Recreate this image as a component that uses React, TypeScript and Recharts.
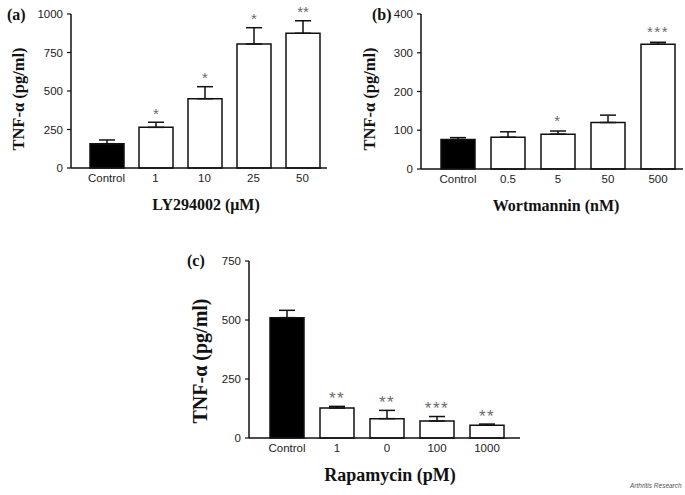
import React from "react";
import { BarChart, Bar, XAxis, YAxis, ErrorBar, LabelList, Cell, Label } from "recharts";

// panel (a) LY294002
const lyDoses = ["Control", "1", "10", "25", "50"];
const lyMean = [158, 264, 450, 805, 875];
const lySem = [24, 33, 78, 106, 81];
const lyStars = ["", "*", "*", "*", "**"];

// panel (b) Wortmannin
const wortDoses = ["Control", "0.5", "5", "50", "500"];
const wortMean = [76, 82, 90, 120, 322];
const wortSem = [5, 14, 8, 19, 5];
const wortStars = ["", "", "*", "", "***"];

// panel (c) Rapamycin
const rapaDoses = ["Control", "1", "0", "100", "1000"];
const rapaMean = [510, 127, 82, 72, 54];
const rapaSem = [31, 7, 35, 19, 5];
const rapaStars = ["", "**", "**", "***", "**"];

const lyTicks = [0, 250, 500, 750, 1000];
const wortTicks = [0, 100, 200, 300, 400];
const rapaTicks = [0, 250, 500, 750];

const SANS = "'Liberation Sans', Arial, sans-serif";
const SERIF = "'Liberation Serif', 'Times New Roman', serif";

function rows(doses: string[], mean: number[], sem: number[], stars: string[]) {
  return doses.map((d, i) => ({ dose: d, mean: mean[i], err: [0, sem[i]], star: stars[i] }));
}

type PanelProps = {
  data: { dose: string; mean: number; err: number[]; star: string }[];
  ticks: number[];
  width: number;
  height: number;
  margin: { top: number; right: number; bottom: number; left: number };
  yWidth: number;
  xHeight: number;
  padLeft: number;
  padRight: number;
  xTitle: string;
  xTitleX: number;
  xTitleY: number;
  xTitleSize: number;
  yTitleX: number;
  yTitleY: number;
  yTitleSize: number;
  letter: string;
  letterX: number;
  letterY: number;
  starSize: number;
  starSpacing: number;
  starGap: number;
};

function Panel(p: PanelProps) {
  const renderStar = (props: any) => {
    const { x, y, width, height, index } = props;
    const row = p.data[index];
    if (!row || !row.star) return null;
    const perUnit = height / row.mean;
    const errTop = y - row.err[1] * perUnit;
    return (
      <text
        x={x + width / 2}
        y={errTop - p.starGap + p.starSize * 0.58}
        textAnchor="middle"
        fontFamily={SANS}
        fontSize={p.starSize}
        letterSpacing={p.starSpacing}
        fill="#6a6a6a"
      >
        {row.star}
      </text>
    );
  };

  return (
    <BarChart width={p.width} height={p.height} data={p.data} margin={p.margin} barSize={34}>
      <XAxis
        dataKey="dose"
        height={p.xHeight}
        padding={{ left: p.padLeft, right: p.padRight }}
        tickLine={false}
        tickSize={4}
        axisLine={{ stroke: "#111", strokeWidth: 1.5 }}
        tick={{ fill: "#222", fontSize: 11.5, fontFamily: SANS }}
        interval={0}
      >
        <Label
          content={() => (
            <text
              x={p.xTitleX}
              y={p.xTitleY}
              textAnchor="middle"
              dominantBaseline="central"
              fontFamily={SERIF}
              fontWeight="bold"
              fontSize={p.xTitleSize}
              fill="#111"
            >
              {p.xTitle}
            </text>
          )}
        />
      </XAxis>
      <YAxis
        width={p.yWidth}
        domain={[p.ticks[0], p.ticks[p.ticks.length - 1]]}
        ticks={p.ticks}
        interval={0}
        tickSize={4}
        tickMargin={4}
        tickLine={{ stroke: "#111", strokeWidth: 1.2 }}
        axisLine={{ stroke: "#111", strokeWidth: 1.5 }}
        tick={{ fill: "#222", fontSize: 11.5, fontFamily: SANS }}
      >
        <Label
          content={() => (
            <g>
              <text
                x={p.yTitleX}
                y={p.yTitleY}
                transform={`rotate(-90 ${p.yTitleX} ${p.yTitleY})`}
                textAnchor="middle"
                dominantBaseline="central"
                fontFamily={SERIF}
                fontWeight="bold"
                fontSize={p.yTitleSize}
                fill="#111"
              >
                TNF-α (pg/ml)
              </text>
              <text
                x={p.letterX}
                y={p.letterY}
                dominantBaseline="central"
                fontFamily={SERIF}
                fontWeight="bold"
                fontSize={16}
                fill="#111"
              >
                {p.letter}
              </text>
            </g>
          )}
        />
      </YAxis>
      <Bar dataKey="mean" stroke="#111" strokeWidth={1.5} isAnimationActive={false}>
        {p.data.map((r, i) => (
          <Cell key={r.dose} fill={i === 0 ? "#000" : "#fff"} />
        ))}
        <ErrorBar dataKey="err" width={8} stroke="#111" strokeWidth={1.5} direction="y" />
        <LabelList dataKey="star" content={renderStar} />
      </Bar>
    </BarChart>
  );
}

export default function App() {
  const ly = rows(lyDoses, lyMean, lySem, lyStars);
  const wort = rows(wortDoses, wortMean, wortSem, wortStars);
  const rapa = rows(rapaDoses, rapaMean, rapaSem, rapaStars);
  return (
    <div style={{ position: "absolute", left: 0, top: 0, width: 685, height: 495, background: "#fff" }}>
      <div style={{ position: "absolute", left: 0, top: 0 }}>
        <Panel
          data={ly}
          ticks={lyTicks}
          width={340}
          height={215}
          margin={{ top: 14, right: 13, bottom: 0, left: 0 }}
          yWidth={71}
          xHeight={47}
          padLeft={11}
          padRight={0}
          xTitle="LY294002 (μM)"
          xTitleX={206}
          xTitleY={204}
          xTitleSize={16}
          yTitleX={18}
          yTitleY={99}
          yTitleSize={16.5}
          letter="(a)"
          letterX={7}
          letterY={14}
          starSize={15}
          starSpacing={0}
          starGap={12}
        />
      </div>
      <div style={{ position: "absolute", left: 340, top: 0 }}>
        <Panel
          data={wort}
          ticks={wortTicks}
          width={345}
          height={215}
          margin={{ top: 14, right: 2, bottom: 0, left: 0 }}
          yWidth={81}
          xHeight={46}
          padLeft={12}
          padRight={0}
          xTitle="Wortmannin (nM)"
          xTitleX={216}
          xTitleY={205}
          xTitleSize={16}
          yTitleX={29}
          yTitleY={99}
          yTitleSize={16.5}
          letter="(b)"
          letterX={32}
          letterY={14}
          starSize={15}
          starSpacing={1.5}
          starGap={14}
        />
      </div>
      <div style={{ position: "absolute", left: 180, top: 245 }}>
        <Panel
          data={rapa}
          ticks={rapaTicks}
          width={350}
          height={250}
          margin={{ top: 16, right: 10, bottom: 0, left: 0 }}
          yWidth={69}
          xHeight={57}
          padLeft={13}
          padRight={8}
          xTitle="Rapamycin (pM)"
          xTitleX={210}
          xTitleY={230}
          xTitleSize={18}
          yTitleX={20}
          yTitleY={116}
          yTitleSize={20}
          letter="(c)"
          letterX={7}
          letterY={15}
          starSize={17}
          starSpacing={1.5}
          starGap={12}
        />
      </div>
      <div
        style={{
          position: "absolute",
          left: 630,
          top: 482,
          fontFamily: SANS,
          fontStyle: "italic",
          fontSize: 6.5,
          color: "#555",
          whiteSpace: "nowrap",
        }}
      >
        Arthritis Research
      </div>
    </div>
  );
}
